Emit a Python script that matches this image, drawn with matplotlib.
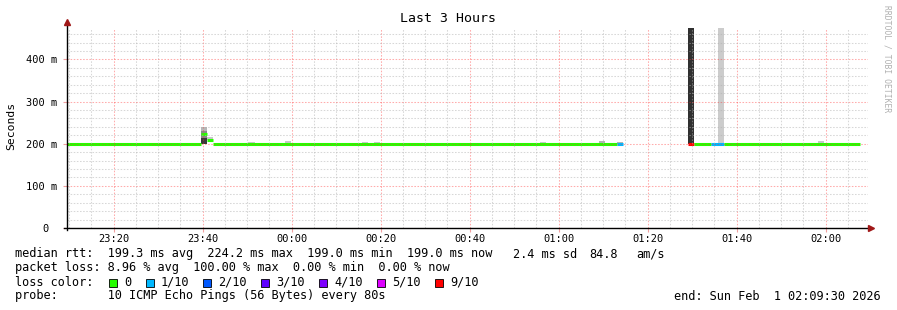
#!/usr/bin/env python3
"""SmokePing style latency graph, last 3 hours."""

import matplotlib

matplotlib.use("Agg")
import matplotlib.dates as mdates
import matplotlib.pyplot as plt
import pandas as pd
from matplotlib.patches import Rectangle
from matplotlib.ticker import FixedLocator, FuncFormatter

# median rtt segments (seconds) and packet loss (out of 10)
seg_start = ["2026-01-31 23:09:30", "2026-01-31 23:39:36", "2026-01-31 23:40:56",
             "2026-01-31 23:42:16", "2026-02-01 01:13:06", "2026-02-01 01:29:04",
             "2026-02-01 01:30:24", "2026-02-01 01:34:16", "2026-02-01 01:37:10"]
seg_end = ["2026-01-31 23:39:36", "2026-01-31 23:40:56", "2026-01-31 23:42:16",
           "2026-02-01 01:13:06", "2026-02-01 01:14:26", "2026-02-01 01:30:24",
           "2026-02-01 01:34:16", "2026-02-01 01:37:10", "2026-02-01 02:07:42"]
median_s = [0.1992, 0.2230, 0.2090, 0.1992, 0.1992, 0.1992, 0.1992, 0.1992, 0.1992]
loss = [0, 0, 0, 0, 1, 9, 0, 1, 0]

# smoke (ping spread) boxes
smoke_start = ["2026-01-31 23:39:36", "2026-01-31 23:39:36", "2026-01-31 23:39:36",
               "2026-01-31 23:40:56", "2026-01-31 23:50:10", "2026-01-31 23:58:30",
               "2026-02-01 00:15:48", "2026-02-01 00:18:30", "2026-02-01 00:55:48",
               "2026-02-01 01:09:04", "2026-02-01 01:13:06", "2026-02-01 01:29:04",
               "2026-02-01 01:35:50", "2026-02-01 01:58:18"]
smoke_end = ["2026-01-31 23:40:56", "2026-01-31 23:40:56", "2026-01-31 23:40:56",
             "2026-01-31 23:42:16", "2026-01-31 23:51:40", "2026-01-31 23:59:50",
             "2026-02-01 00:17:08", "2026-02-01 00:19:50", "2026-02-01 00:57:08",
             "2026-02-01 01:10:24", "2026-02-01 01:14:26", "2026-02-01 01:30:24",
             "2026-02-01 01:37:10", "2026-02-01 01:59:36"]
smoke_lo = [0.200, 0.213, 0.231, 0.209, 0.199, 0.199, 0.199, 0.199, 0.199,
            0.199, 0.199, 0.200, 0.200, 0.199]
smoke_hi = [0.213, 0.231, 0.240, 0.215, 0.204, 0.207, 0.205, 0.205, 0.203,
            0.207, 0.204, 0.4745, 0.4745, 0.207]
smoke_shade = ["#3a3a3a", "#8a8a8a", "#b8b8b8", "#c8c8c8", "#c8c8c8", "#c8c8c8",
               "#c8c8c8", "#c8c8c8", "#c8c8c8", "#b4b4b4", "#b4b4b4", "#303030",
               "#cccccc", "#c8c8c8"]

loss_levels = [0, 1, 2, 3, 4, 5, 9]
loss_labels = ["0", "1/10", "2/10", "3/10", "4/10", "5/10", "9/10"]
loss_colors = ["#26ff00", "#00b8ff", "#0059ff", "#5e00ff", "#7e00ff", "#dd00ff", "#ff0000"]

start_time = "2026-01-31 23:09:30"
end_time = "2026-02-01 02:09:30"

MONO = "DejaVu Sans Mono"


def tnum(values):
    return mdates.date2num(pd.to_datetime(values))


def main() -> None:
    W, H = 897, 310
    fig = plt.figure(figsize=(W / 100, H / 100), dpi=100)
    ax = fig.add_axes([67 / W, 1 - 228 / H, 801 / W, 200 / H])
    color_of = dict(zip(loss_levels, loss_colors))

    s0, s1 = tnum(smoke_start), tnum(smoke_end)
    for a, b, lo, hi, c in zip(s0, s1, smoke_lo, smoke_hi, smoke_shade):
        ax.add_patch(Rectangle((a, lo), b - a, hi - lo, facecolor=c, edgecolor="none", zorder=1))

    m0, m1 = tnum(seg_start), tnum(seg_end)
    for a, b, m, l in zip(m0, m1, median_s, loss):
        ax.hlines(m, a, b, colors=color_of[l], linewidth=2.2, zorder=2)

    ax.set_xlim(tnum([start_time])[0], tnum([end_time])[0])
    ax.set_ylim(0, 0.4745)

    ax.xaxis.set_major_locator(mdates.MinuteLocator(byminute=[0, 20, 40]))
    ax.xaxis.set_minor_locator(mdates.MinuteLocator(byminute=range(0, 60, 5)))
    ax.xaxis.set_major_formatter(mdates.DateFormatter("%H:%M"))
    ax.yaxis.set_major_locator(FixedLocator([0, 0.1, 0.2, 0.3, 0.4]))
    ax.yaxis.set_minor_locator(FixedLocator([i * 0.02 for i in range(24)]))
    ax.yaxis.set_major_formatter(FuncFormatter(lambda v, p: "0" if v == 0 else f"{v * 1000:.0f} m"))

    ax.set_axisbelow(False)
    ax.grid(which="minor", color="#b0b0b0", alpha=0.5, linewidth=0.75, linestyle=(0, (1.5, 1.5)))
    ax.grid(which="major", color="#ff3030", alpha=0.4, linewidth=0.75, linestyle=(0, (1.5, 1.5)))

    for sp in ax.spines.values():
        sp.set_visible(False)
    ax.tick_params(which="both", labelsize=7.5, length=0, pad=5)
    ax.tick_params(axis="y", which="major", length=3, color="#f0a0a0", pad=4)
    ax.tick_params(axis="x", which="major", length=3, color="#f0a0a0", pad=1.5)
    for lab in ax.get_xticklabels() + ax.get_yticklabels():
        lab.set_family(MONO)
    ax.yaxis.get_major_ticks()[0].set_pad(10.5)

    # axis lines with arrows
    ax.plot([0, 0], [-0.01, 1.025], color="black", lw=1, transform=ax.transAxes, clip_on=False, zorder=5)
    ax.plot([-0.004, 1.003], [0, 0], color="black", lw=1, transform=ax.transAxes, clip_on=False, zorder=5)
    ax.plot([0], [1.03], marker="^", ms=4, color="#a01818", transform=ax.transAxes, clip_on=False, zorder=6)
    ax.plot([1.004], [0], marker=">", ms=4, color="#a01818", transform=ax.transAxes, clip_on=False, zorder=6)

    fig.text(448 / W, 1 - 19 / H, "Last 3 Hours", family=MONO, fontsize=9.5, ha="center", va="center")
    fig.text(11 / W, 1 - 126 / H, "Seconds", family=MONO, fontsize=8.2, rotation=90, ha="center", va="center")
    fig.text(887 / W, 1 - 5 / H, "RRDTOOL / TOBI OETIKER", family=MONO, fontsize=5.8, color="#b0b0b0",
             rotation=270, ha="center", va="top")

    fs = 8.55
    y1, y2, y3, y4 = [1 - v / H for v in (254, 268, 282, 296)]
    fig.text(15 / W, y1, "median rtt:  199.3 ms avg  224.2 ms max  199.0 ms min  199.0 ms now",
             family=MONO, fontsize=fs, va="center")
    fig.text(513 / W, y1, "2.4 ms sd", family=MONO, fontsize=fs, va="center")
    fig.text(589 / W, y1, "84.8", family=MONO, fontsize=fs, va="center")
    fig.text(636 / W, y1, "am/s", family=MONO, fontsize=fs, va="center")
    fig.text(15 / W, y2, "packet loss: 8.96 % avg  100.00 % max  0.00 % min  0.00 % now",
             family=MONO, fontsize=fs, va="center")
    fig.text(15 / W, y3, "loss color:", family=MONO, fontsize=fs, va="center")
    box_x = [109, 146, 203, 261, 319, 377, 435]
    for bx, lab, c in zip(box_x, loss_labels, loss_colors):
        fig.patches.append(Rectangle((bx / W, 1 - 287 / H), 8 / W, 8 / H, facecolor=c,
                                     edgecolor="black", linewidth=0.6, transform=fig.transFigure))
        fig.text((bx + 15) / W, y3, lab, family=MONO, fontsize=fs, va="center")
    fig.text(15 / W, y4, "probe:       10 ICMP Echo Pings (56 Bytes) every 80s",
             family=MONO, fontsize=fs, va="center")
    fig.text(881 / W, y4, "end: Sun Feb  1 02:09:30 2026", family=MONO, fontsize=fs, va="center", ha="right")

    fig.savefig("out.png", dpi=100, facecolor="white")


if __name__ == "__main__":
    main()
